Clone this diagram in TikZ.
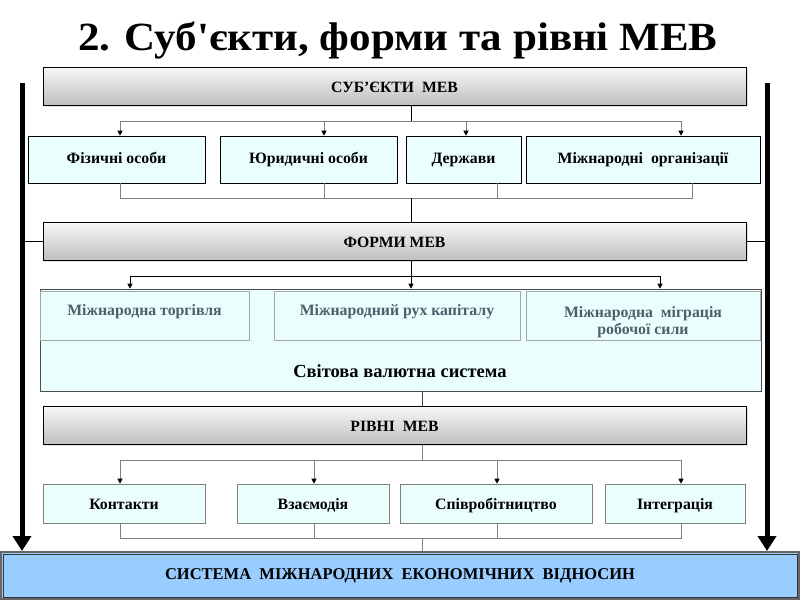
\documentclass[tikz,border=0pt]{standalone}
\usepackage{fontspec}
\setmainfont{LiberationSerif}[Extension=.ttf, UprightFont=*-Regular, BoldFont=*-Bold, ItalicFont=*-Italic, BoldItalicFont=*-BoldItalic]
\newcommand\serifb{\bfseries}
\usetikzlibrary{arrows.meta,shadows}
\definecolor{cyanfill}{HTML}{EAFEFE}
\definecolor{botfill}{HTML}{99CCFF}
\definecolor{busgray}{HTML}{808080}
\definecolor{innertext}{HTML}{4F5F6A}
\begin{document}
\begin{tikzpicture}[x=1pt,y=-1pt,
  hdr/.style={draw=black, line width=0.8pt, top color=gray!6, bottom color=gray!50,
    minimum width=703, minimum height=38, inner sep=0pt,
    text height=13pt, text depth=1pt,
    font=\serifb\fontsize{15.7}{18}\selectfont,
    drop shadow={shadow xshift=1.5pt, shadow yshift=-1.5pt, opacity=0.25}},
  box/.style={draw=black, line width=0.6pt, fill=cyanfill, inner sep=0pt,
    text height=10.5pt, text depth=3.5pt,
    font=\serifb\fontsize{15.8}{18}\selectfont},
  gbox/.style={box, draw=busgray, text height=12pt, text depth=1pt},
  ibox/.style={draw=gray!70, line width=0.6pt, fill=cyanfill, inner sep=0pt,
    text=innertext, align=center, font=\serifb\fontsize{15.8}{17}\selectfont},
  bus/.style={draw=busgray, line width=0.8pt},
  stem/.style={draw=black, line width=0.8pt},
  arr/.style={draw=busgray, line width=0.8pt, -{Triangle[length=5pt,width=5pt,color=black]}},
  arrb/.style={draw=black, line width=0.8pt, -{Triangle[length=5pt,width=5pt]}},
  thick arrow/.style={draw=black, line width=5pt, -{Triangle[length=15pt,width=18pt]}}
]
\useasboundingbox (0,0) rectangle (800,600);
\fill[white] (0,0) rectangle (800,600);

% title
\node[font=\serifb\fontsize{40}{46}\selectfont, anchor=base, inner sep=0pt] (title) at (398,50) {\scalebox{1.075}[1]{2. Суб\textquotesingle єкти, форми та рівні МЕВ}};

% headers
\node[hdr] (h1) at (394.5,86) {СУБ’ЄКТИ\ \ МЕВ};
\node[hdr] (h2) at (394.5,241) {ФОРМИ МЕВ};
\node[hdr] (h3) at (394.5,425.5) {РІВНІ\ \ МЕВ};

% row 1
\node[box, minimum width=177, minimum height=47] (fiz) at (116.5,159.5) {Фізичні особи};
\node[box, minimum width=177, minimum height=47] (yur) at (308.5,159.5) {Юридичні особи};
\node[box, minimum width=115, minimum height=47] (der) at (463.5,159.5) {Держави};
\node[box, minimum width=234, minimum height=47] (org) at (643,159.5) {Міжнародні\ \ організації};

% forms
\node[draw=black!70, line width=0.6pt, fill=cyanfill, minimum width=721, minimum height=102, inner sep=0pt] (svs) at (400.5,340) {};
\node[font=\serifb\fontsize{18.5}{22}\selectfont] (svst) at (400,371) {Світова валютна система};
\node[ibox, minimum width=209, minimum height=49] (torg) at (144.5,315.5) {\raisebox{0pt}[0pt][0pt]{Міжнародна торгівля}};
\node[ibox, minimum width=246, minimum height=49] (kap) at (397,315.5) {\raisebox{0pt}[0pt][0pt]{Міжнародний рух капіталу}};
\node[ibox, minimum width=234, minimum height=49] (migr) at (643,315.5) {\raisebox{-10.5pt}[0pt][0pt]{\begin{tabular}{@{}c@{}}Міжнародна\ \ міграція\\робочої сили\end{tabular}}};

% row 3
\node[gbox, minimum width=162, minimum height=39] (kon) at (124,503.5) {Контакти};
\node[gbox, minimum width=152, minimum height=39] (vza) at (313,503.5) {Взаємодія};
\node[gbox, minimum width=192, minimum height=39] (spi) at (496,503.5) {Співробітництво};
\node[gbox, minimum width=140, minimum height=39] (int) at (675,503.5) {Інтеграція};

% bottom box
\node[draw=gray!80!black, line width=2pt, fill=botfill, minimum width=798, minimum height=47, inner sep=0pt] (bot) at (400,575.5) {};
\draw[black!80, line width=0.8pt] ([shift={(3,-3)}]bot.south west) rectangle ([shift={(-3,3)}]bot.north east);
\node[font=\serifb\fontsize{16.5}{20}\selectfont] (bott) at (400,576) {СИСТЕМА\ \ МІЖНАРОДНИХ\ \ ЕКОНОМІЧНИХ\ \ ВІДНОСИН};

% --- subjects connectors
\coordinate (s1) at (411,121);
\coordinate (b1l) at (120,121);
\coordinate (b1r) at (681,121);
\coordinate (a12) at (324,121);
\coordinate (a13) at (466,121);
\draw[stem] (h1.south -| s1) -- (s1);
\draw[bus] (b1l) -- (b1r);
\draw[arr] (b1l) -- (b1l |- fiz.north);
\draw[arr] (a12) -- (a12 |- yur.north);
\draw[arr] (a13) -- (a13 |- der.north);
\draw[arr] (b1r) -- (b1r |- org.north);

\coordinate (c1) at (120,198);
\coordinate (c2) at (324,198);
\coordinate (c3) at (497,198);
\coordinate (c4) at (692,198);
\coordinate (cm) at (411,198);
\draw[bus] (fiz.south -| c1) -- (c1) -- (c4) -- (org.south -| c4);
\draw[bus] (yur.south -| c2) -- (c2);
\draw[bus] (der.south -| c3) -- (c3);
\draw[stem] (cm) -- (h2.north -| cm);

% --- forms connectors
\coordinate (f1) at (411,276);
\coordinate (f1l) at (130,276);
\coordinate (f1r) at (660,276);
\draw[stem] (h2.south -| f1) -- (f1);
\draw[stem] (f1l) -- (f1r);
\draw[arrb] (f1l) -- (f1l |- svs.north);
\draw[arrb] (f1) -- (f1 |- svs.north);
\draw[arrb] (f1r) -- (f1r |- svs.north);

\coordinate (g1) at (422,400);
\draw[stem, draw=black!75] (svs.south -| g1) -- (h3.north -| g1);

% --- levels connectors
\coordinate (l1) at (422,460);
\coordinate (l1l) at (120,460);
\coordinate (l1r) at (681,460);
\coordinate (l12) at (314,460);
\coordinate (l13) at (497,460);
\draw[bus] (h3.south -| l1) -- (l1);
\draw[bus] (l1l) -- (l1r);
\draw[arr] (l1l) -- (l1l |- kon.north);
\draw[arr] (l12) -- (l12 |- vza.north);
\draw[arr] (l13) -- (l13 |- spi.north);
\draw[arr] (l1r) -- (l1r |- int.north);

\coordinate (m1) at (120,538);
\coordinate (m2) at (314,538);
\coordinate (m3) at (497,538);
\coordinate (m4) at (681,538);
\coordinate (mm) at (422,538);
\draw[bus] (kon.south -| m1) -- (m1) -- (m4) -- (int.south -| m4);
\draw[bus] (vza.south -| m2) -- (m2);
\draw[bus] (spi.south -| m3) -- (m3);
\draw[bus] (mm) -- (bot.north -| mm);

% --- thick side arrows
\coordinate (la) at (22,83);
\coordinate (ra) at (767,83);
\draw[thick arrow] (la) -- (la |- bot.north);
\draw[thick arrow] (ra) -- (ra |- bot.north);
\draw[stem] (h2.west) -- (h2.west -| la);
\draw[stem] (h2.east) -- (h2.east -| ra);
\end{tikzpicture}
\end{document}
